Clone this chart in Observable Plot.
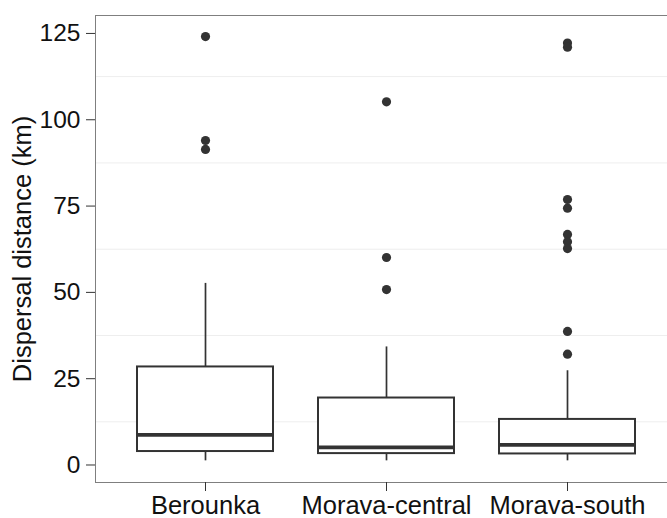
<!DOCTYPE html>
<html>
<head>
<meta charset="utf-8">
<script src="https://cdn.jsdelivr.net/npm/d3@7"></script>
<script src="https://cdn.jsdelivr.net/npm/@observablehq/plot@0.6"></script>
<style>
  html, body { margin: 0; padding: 0; background: #fff; overflow: hidden; }
  #chart { width: 667px; height: 518px; overflow: hidden; }
</style>
</head>
<body>
<div id="chart"></div>
<script>
// Dispersal distances per river basin, as box-plot summaries (km)
const categories = ["Berounka", "Morava-central", "Morava-south"];
const whiskerLow = [1.2, 1.2, 1.2];
const q1 = [3.9, 3.3, 3.2];
const median = [8.7, 5.1, 5.8];
const q3 = [28.4, 19.4, 13.2];
const whiskerHigh = [52.6, 34.2, 27.3];
const outliersBerounka = [124.1, 94.0, 91.4];
const outliersCentral = [105.2, 60.1, 50.8];
const outliersSouth = [122.2, 121.0, 76.9, 74.4, 66.8, 64.7, 62.7, 38.7, 32.1];

const yTicks = [0, 25, 50, 75, 100, 125];
const yMinorGrid = [12.5, 37.5, 62.5, 87.5, 112.5];
const yDomain = [-5.07, 130.2];
const yLabel = "Dispersal distance (km)";

const boxes = categories.map((c, i) => ({
  region: c, low: whiskerLow[i], q1: q1[i], median: median[i], q3: q3[i], high: whiskerHigh[i]
}));
const outliers = [
  ...outliersBerounka.map(v => ({region: categories[0], value: v})),
  ...outliersCentral.map(v => ({region: categories[1], value: v})),
  ...outliersSouth.map(v => ({region: categories[2], value: v}))
];

const ink = "#333333";
const font = "'Liberation Sans', Arial, sans-serif";

const chart = Plot.plot({
  width: 676,
  height: 518,
  marginLeft: 95,
  marginRight: 0,
  marginTop: 15,
  marginBottom: 36,
  style: {maxWidth: "none", fontFamily: font, fontSize: "25px", background: "#fff", overflow: "hidden"},
  x: {domain: categories, paddingInner: 0.25, paddingOuter: 0.225, axis: null},
  y: {domain: yDomain, axis: null},
  marks: [
    Plot.ruleY(yMinorGrid, {stroke: "#eeeeee", strokeWidth: 1}),
    Plot.frame({stroke: "#7f7f7f", strokeWidth: 1}),
    Plot.axisY(yTicks, {
      tickSize: 9, tickPadding: 6, fontSize: 24.5, color: "#111", stroke: ink, strokeWidth: 1, label: null
    }),
    Plot.axisX(categories, {
      tickSize: 9, tickPadding: 4, fontSize: 25.5, color: "#111", stroke: ink, strokeWidth: 1, label: null
    }),
    Plot.text([yLabel], {
      frameAnchor: "left", rotate: -90, dx: -65, lineAnchor: "bottom", textAnchor: "middle",
      fontSize: 25.5, fill: "#111", fontFamily: font
    }),
    // whiskers
    Plot.ruleX(boxes, {x: "region", y1: "low", y2: "q1", stroke: ink, strokeWidth: 1.7}),
    Plot.ruleX(boxes, {x: "region", y1: "q3", y2: "high", stroke: ink, strokeWidth: 1.7}),
    // boxes
    Plot.rect(boxes, {x: "region", y1: "q1", y2: "q3", fill: "white", stroke: ink, strokeWidth: 2}),
    // medians
    Plot.tickY(boxes, {x: "region", y: "median", stroke: ink, strokeWidth: 3.8}),
    // outlying observations
    Plot.dot(outliers, {x: "region", y: "value", r: 4.6, fill: ink, stroke: "none"})
  ]
});

document.getElementById("chart").appendChild(chart);
</script>
</body>
</html>
